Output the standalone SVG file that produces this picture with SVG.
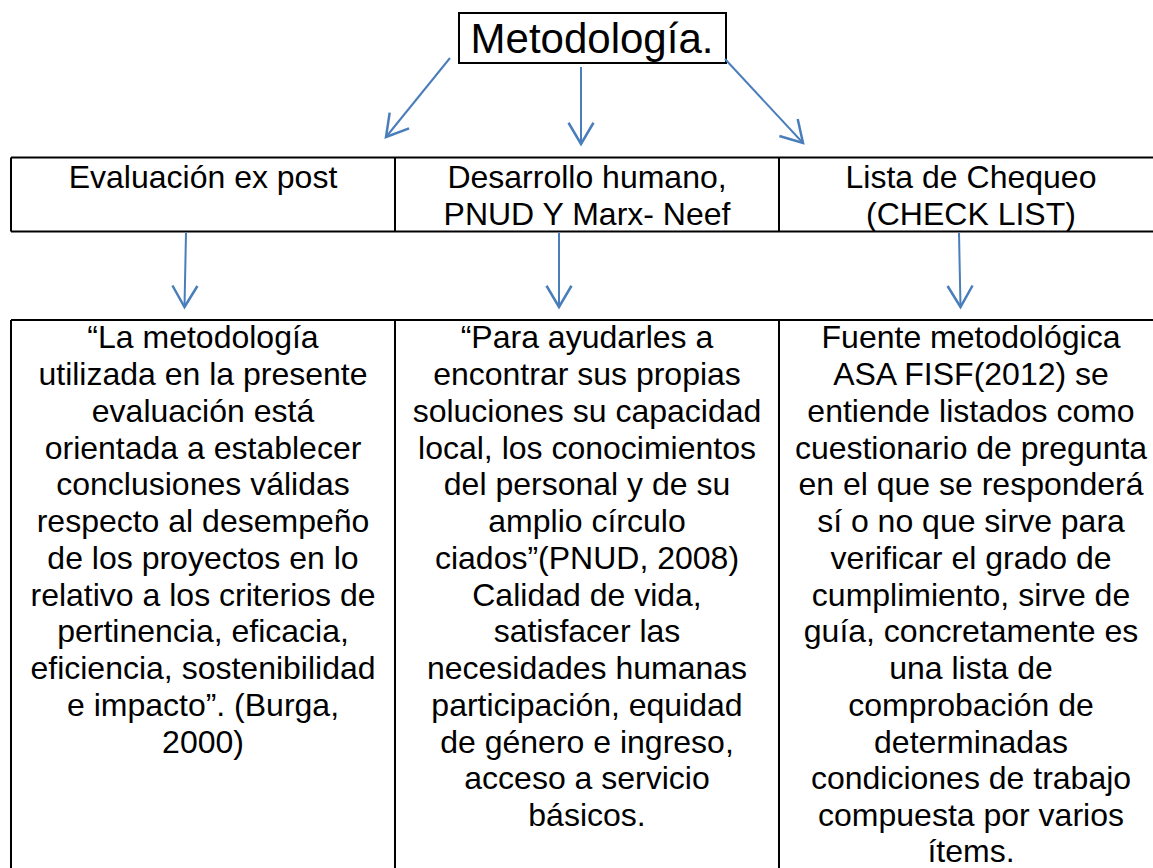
<svg xmlns="http://www.w3.org/2000/svg" width="1153" height="868" viewBox="0 0 1153 868">
<style>
  .t { font-family: "Liberation Sans", Arial, sans-serif; font-size: 32px; fill: #000; text-anchor: middle; }
  .title { font-family: "Liberation Sans", Arial, sans-serif; font-size: 42px; fill: #000; text-anchor: middle; }
  .box { fill: #fff; stroke: #000; stroke-width: 2; }
  .grid { stroke: #000; stroke-width: 2; fill: none; }
  .arr { stroke: #4a7ebb; stroke-width: 2; fill: none; marker-end: url(#head); }
</style>
<defs>
  <marker id="head" markerUnits="userSpaceOnUse" markerWidth="30" markerHeight="30" viewBox="-20 -12 22 24" refX="0" refY="0" orient="auto">
    <path d="M-17,-10 L0,0 L-17,10" fill="none" stroke="#4a7ebb" stroke-width="2"/>
  </marker>
</defs>
<rect width="1153" height="868" fill="#fff"/>

<g id="title">
  <rect class="box" x="459" y="13" width="267" height="50"/>
  <text class="title" x="592" y="53">Metodología.</text>
</g>

<g id="connectors">
  <line class="arr" x1="450" y1="58" x2="386" y2="137"/>
  <line class="arr" x1="581" y1="67" x2="581" y2="144"/>
  <line class="arr" x1="725" y1="59" x2="803" y2="143"/>
  <line class="arr" x1="186" y1="233" x2="184.5" y2="307"/>
  <line class="arr" x1="559" y1="233" x2="559" y2="307"/>
  <line class="arr" x1="959" y1="233" x2="960.5" y2="307"/>
</g>

<g id="table-top">
  <path class="grid" d="M11,157.5 H1165 M11,231.5 H1165 M11,157.5 V231.5 M395,157.5 V231.5 M779,157.5 V231.5"/>
</g>

<g id="evaluacion">
  <text class="t" x="203" y="188">Evaluación ex post</text>
</g>
<g id="desarrollo">
  <text class="t" x="587" y="188">Desarrollo humano,</text>
  <text class="t" x="587" y="224.5">PNUD Y Marx- Neef</text>
</g>
<g id="lista">
  <text class="t" x="971" y="188">Lista de Chequeo</text>
  <text class="t" x="971" y="224.5">(CHECK LIST)</text>
</g>

<g id="table-bottom">
  <path class="grid" d="M11,320 H1165 M11,320 V880 M395,320 V880 M779,320 V880"/>
</g>

<g id="desc-evaluacion">
  <text class="t" x="203" y="348.3">“La metodología</text>
  <text class="t" x="203" y="385">utilizada en la presente</text>
  <text class="t" x="203" y="421.8">evaluación está</text>
  <text class="t" x="203" y="458.5">orientada a establecer</text>
  <text class="t" x="203" y="495.3">conclusiones válidas</text>
  <text class="t" x="203" y="532">respecto al desempeño</text>
  <text class="t" x="203" y="568.8">de los proyectos en lo</text>
  <text class="t" x="203" y="605.5">relativo a los criterios de</text>
  <text class="t" x="203" y="642.3">pertinencia, eficacia,</text>
  <text class="t" x="203" y="679">eficiencia, sostenibilidad</text>
  <text class="t" x="203" y="715.8">e impacto”. (Burga,</text>
  <text class="t" x="203" y="752.5">2000)</text>
</g>

<g id="desc-desarrollo">
  <text class="t" x="587" y="348.3">“Para ayudarles a</text>
  <text class="t" x="587" y="385">encontrar sus propias</text>
  <text class="t" x="587" y="421.8">soluciones su capacidad</text>
  <text class="t" x="587" y="458.5">local, los conocimientos</text>
  <text class="t" x="587" y="495.3">del personal y de su</text>
  <text class="t" x="587" y="532">amplio círculo</text>
  <text class="t" x="587" y="568.8">ciados”(PNUD, 2008)</text>
  <text class="t" x="587" y="605.5">Calidad de vida,</text>
  <text class="t" x="587" y="642.3">satisfacer las</text>
  <text class="t" x="587" y="679">necesidades humanas</text>
  <text class="t" x="587" y="715.8">participación, equidad</text>
  <text class="t" x="587" y="752.5">de género e ingreso,</text>
  <text class="t" x="587" y="789.3">acceso a servicio</text>
  <text class="t" x="587" y="826">básicos.</text>
</g>

<g id="desc-lista">
  <text class="t" x="971" y="348.3">Fuente metodológica</text>
  <text class="t" x="971" y="385">ASA FISF(2012) se</text>
  <text class="t" x="971" y="421.8">entiende listados como</text>
  <text class="t" x="971" y="458.5">cuestionario de pregunta</text>
  <text class="t" x="971" y="495.3">en el que se responderá</text>
  <text class="t" x="971" y="532">sí o no que sirve para</text>
  <text class="t" x="971" y="568.8">verificar el grado de</text>
  <text class="t" x="971" y="605.5">cumplimiento, sirve de</text>
  <text class="t" x="971" y="642.3">guía, concretamente es</text>
  <text class="t" x="971" y="679">una lista de</text>
  <text class="t" x="971" y="715.8">comprobación de</text>
  <text class="t" x="971" y="752.5">determinadas</text>
  <text class="t" x="971" y="789.3">condiciones de trabajo</text>
  <text class="t" x="971" y="826">compuesta por varios</text>
  <text class="t" x="971" y="862">ítems.</text>
</g>
</svg>
